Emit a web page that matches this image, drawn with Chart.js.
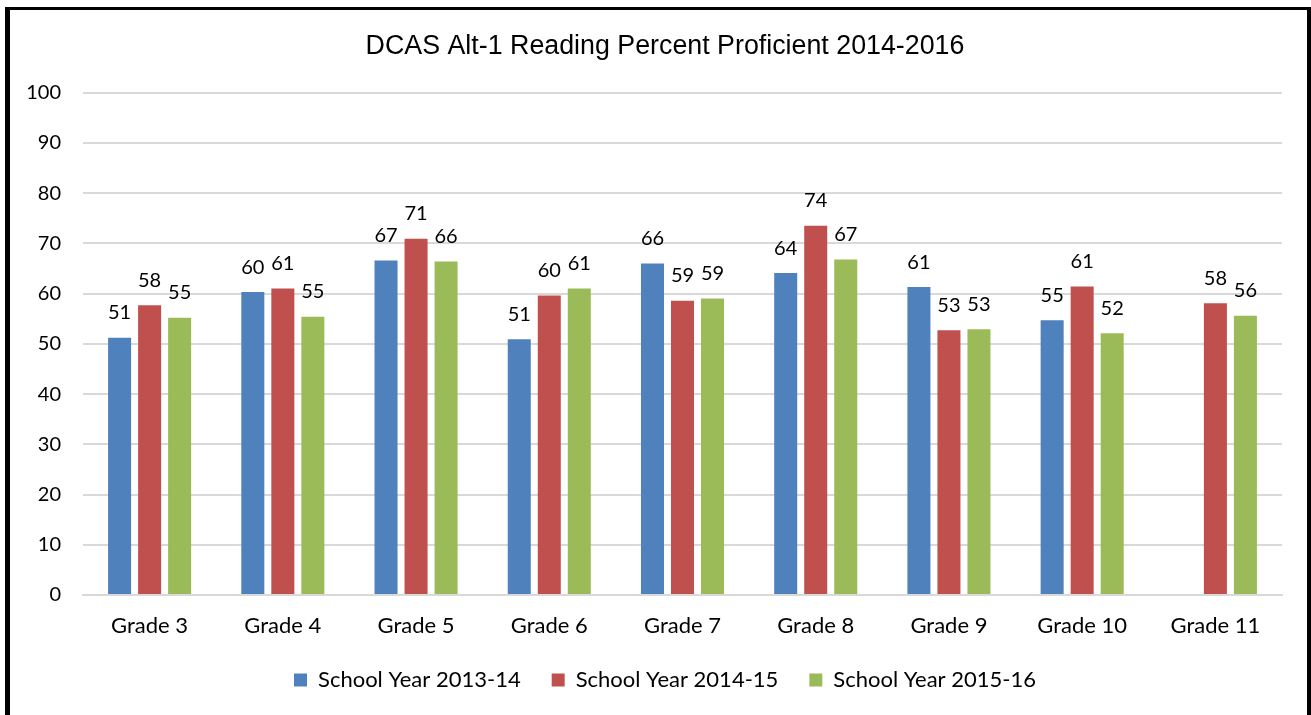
<!DOCTYPE html>
<html>
<head>
<meta charset="utf-8">
<script src="https://cdn.jsdelivr.net/npm/chart.js@4.4.1/dist/chart.umd.min.js"></script>
<style>
  html, body { margin: 0; padding: 0; background: #ffffff; overflow: hidden; }
  #wrap { position: absolute; left: 0; top: 0; width: 1311px; height: 715px; }
  #frame { position: absolute; left: 5px; top: 7px; width: 1297px; height: 720px;
           border-left: 5px solid #000; border-top: 3px solid #000; border-right: 4px solid #000;
           pointer-events: none; }
</style>
</head>
<body>
<div id="wrap"><canvas id="c" width="1311" height="715"></canvas></div>
<div id="frame"></div>
<script>
const chartTitle = 'DCAS Alt-1 Reading Percent Proficient 2014-2016';
const categories = ['Grade 3', 'Grade 4', 'Grade 5', 'Grade 6', 'Grade 7', 'Grade 8', 'Grade 9', 'Grade 10', 'Grade 11'];
const seriesNames = ['School Year 2013-14', 'School Year 2014-15', 'School Year 2015-16'];
const year1314 = [51.2, 60.3, 66.6, 50.9, 66.0, 64.1, 61.3, 54.7, null];
const year1415 = [57.7, 61.0, 70.9, 59.6, 58.6, 73.5, 52.7, 61.4, 58.1];
const year1516 = [55.2, 55.4, 66.4, 61.0, 59.0, 66.8, 52.9, 52.1, 55.6];
const yTicks = [0, 10, 20, 30, 40, 50, 60, 70, 80, 90, 100];
const seriesColors = ['#4f81bd', '#c0504d', '#9bbb59'];

const FONT = 'Lato';

const dataLabels = {
  id: 'dataLabels',
  afterDatasetsDraw(chart) {
    const ctx = chart.ctx;
    ctx.save();
    ctx.font = '20px ' + FONT;
    ctx.fillStyle = '#000';
    ctx.textAlign = 'center';
    ctx.textBaseline = 'alphabetic';
    chart.data.datasets.forEach((ds, i) => {
      const meta = chart.getDatasetMeta(i);
      meta.data.forEach((el, j) => {
        const v = ds.data[j];
        if (v === null || v === undefined) return;
        ctx.fillText(String(Math.round(v)), el.x, el.y - 18.5);
      });
    });
    ctx.restore();
  }
};

// centre title and legend on the framed chart box rather than the canvas
const recenter = {
  id: 'recenter',
  afterLayout(chart) {
    if (chart.titleBlock) chart.titleBlock.left = 48;
    if (chart.legend) chart.legend.left = 48;
  }
};

const chart = new Chart(document.getElementById('c'), {
  type: 'bar',
  data: {
    labels: categories,
    datasets: [
      { label: seriesNames[0], data: year1314, backgroundColor: seriesColors[0] },
      { label: seriesNames[1], data: year1415, backgroundColor: seriesColors[1] },
      { label: seriesNames[2], data: year1516, backgroundColor: seriesColors[2] }
    ]
  },
  options: {
    responsive: false,
    animation: false,
    events: [],
    layout: { padding: { left: 20, right: 29, top: 0, bottom: 14 } },
    datasets: { bar: { categoryPercentage: 0.676, barPercentage: 0.767, borderWidth: 0 } },
    plugins: {
      title: {
        display: true,
        text: chartTitle,
        color: '#000',
        font: { family: 'Liberation Sans', size: 26.8, weight: 'normal', lineHeight: 1.2 },
        padding: { top: 31, bottom: 29.5 }
      },
      legend: {
        position: 'bottom',
        labels: {
          color: '#000',
          font: { family: FONT, size: 22 },
          boxWidth: 13, boxHeight: 13,
          padding: 31
        }
      },
      tooltip: { enabled: false }
    },
    scales: {
      x: {
        afterFit(scale) { scale.height = 43; },
        grid: { display: false, drawTicks: false },
        border: { display: true, color: '#d9d9d9', width: 2 },
        ticks: { color: '#000', font: { family: FONT, size: 22, lineHeight: 1 }, padding: 20, maxRotation: 0 }
      },
      y: {
        min: 0, max: 100,
        afterBuildTicks(scale) { scale.ticks = yTicks.map(v => ({ value: v })); },
        afterFit(scale) { scale.width = 63; },
        grid: { color: '#d9d9d9', lineWidth: 2, drawTicks: false },
        border: { display: false },
        ticks: { color: '#000', font: { family: FONT, size: 20 }, padding: 22 }
      }
    }
  },
  plugins: [dataLabels, recenter]
});
</script>
</body>
</html>
